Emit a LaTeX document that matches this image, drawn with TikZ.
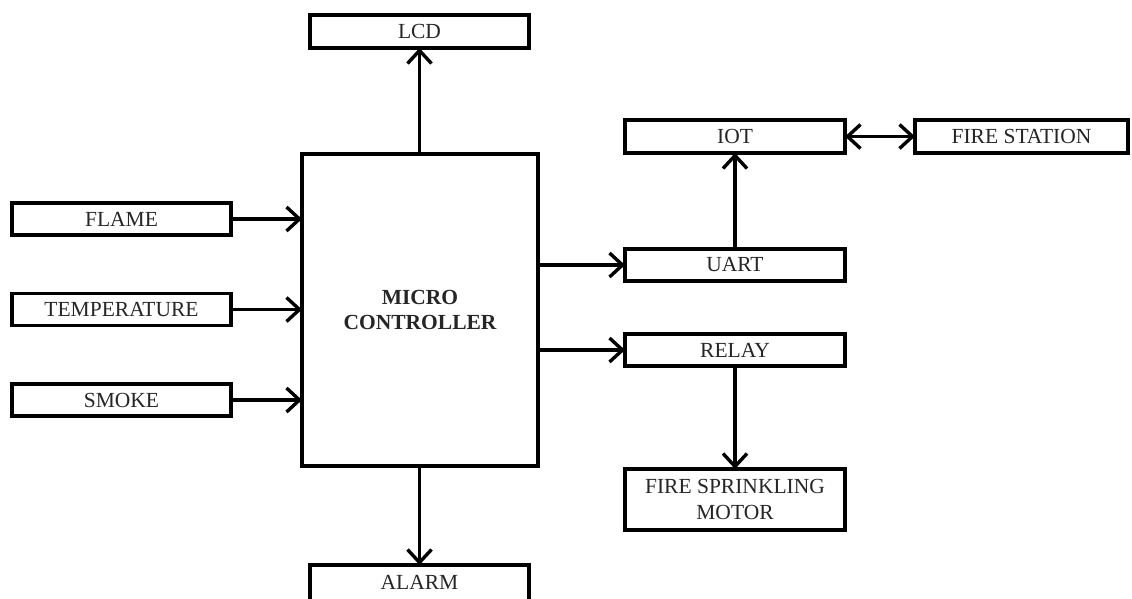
\documentclass[tikz,border=0pt]{standalone}
\usepackage{fontspec}
\setmainfont{Liberation Serif}
\usetikzlibrary{arrows.meta}
\begin{document}
\begin{tikzpicture}[x=1pt,y=-1pt,
  blk/.style={draw=black, line width=3.8pt, fill=white, inner sep=0pt, outer sep=0pt,
    align=center, font=\fontsize{21.5}{26}\selectfont, text=black!85},
  tip/.style={Straight Barb[length=13pt,width=24pt,line width=3.4pt]},
  conn/.style={line width=3.4pt, -{Straight Barb[length=13pt,width=24pt,line width=3.4pt]}},
  bconn/.style={line width=3.4pt, {Straight Barb[length=13pt,width=24pt,line width=3.4pt]}-{Straight Barb[length=13pt,width=24pt,line width=3.4pt]}}
]
\useasboundingbox (0,0) rectangle (1132,598);
\node[blk, minimum width=219pt, minimum height=33pt] (lcd) at (419.5,31.5) {LCD};
\node[blk, minimum width=236pt, minimum height=312pt, font=\fontsize{21.5}{25}\selectfont\bfseries] (mc) at (420,310) {MICRO\\CONTROLLER};
\node[blk, minimum width=219pt, minimum height=32pt] (flame) at (121.5,219) {FLAME};
\node[blk, minimum width=219pt, minimum height=32pt] (temp) at (121.5,309.5) {TEMPERATURE};
\node[blk, minimum width=219pt, minimum height=32pt] (smoke) at (121.5,400) {SMOKE};
\node[blk, minimum width=220pt, minimum height=33pt] (iot) at (735,136.5) {IOT};
\node[blk, minimum width=213pt, minimum height=33pt] (fs) at (1021.5,136.5) {FIRE STATION};
\node[blk, minimum width=220pt, minimum height=32pt] (uart) at (735,265) {UART};
\node[blk, minimum width=220pt, minimum height=32pt] (relay) at (735,350) {RELAY};
\node[blk, minimum width=220pt, minimum height=61pt] (fsm) at (735,499.5) {FIRE SPRINKLING\\MOTOR};
\node[blk, minimum width=219pt, minimum height=40pt, text depth=6pt] (alarm) at (419.5,585) {ALARM};
\draw[conn] (mc.north -| lcd.south) -- (lcd.south);
\draw[conn] (flame.east) -- (flame.east -| mc.west);
\draw[conn] (temp.east) -- (temp.east -| mc.west);
\draw[conn] (smoke.east) -- (smoke.east -| mc.west);
\draw[conn] (uart.west -| mc.east) -- (uart.west);
\draw[conn] (relay.west -| mc.east) -- (relay.west);
\draw[conn] (uart.north) -- (iot.south);
\draw[bconn] (iot.east) -- (fs.west);
\draw[conn] (relay.south) -- (fsm.north);
\draw[conn] (mc.south -| alarm.north) -- (alarm.north);
\end{tikzpicture}
\end{document}
